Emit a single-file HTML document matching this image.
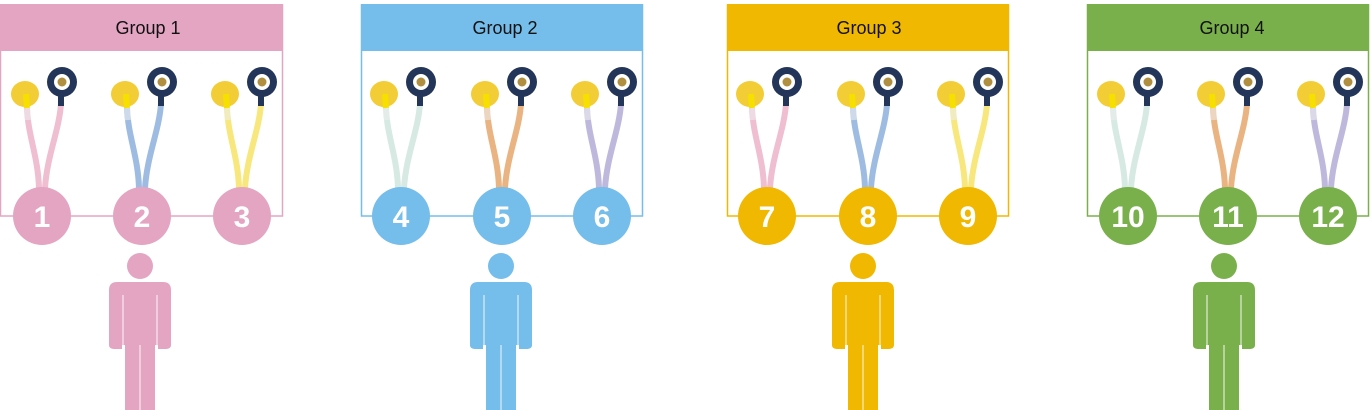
<!DOCTYPE html>
<html><head><meta charset="utf-8"><style>
html,body{margin:0;padding:0;background:#fff;width:1371px;height:410px;overflow:hidden}
svg{display:block}
.h{font-family:"Liberation Sans",sans-serif;font-size:18px;fill:#111}
.n{font-family:"Liberation Sans",sans-serif;font-weight:bold;font-size:30px;fill:#fff}
</style></head><body>
<svg width="1371" height="410" viewBox="0 0 1371 410">
<defs>
<g id="el">
  <path d="M-15,-108 C-14,-80 -4,-60 -3,-28" stroke="currentColor" stroke-width="6" fill="none" opacity="0.75"/>
  <path d="M19,-112 C17,-85 5,-60 3,-28" stroke="currentColor" stroke-width="6" fill="none" opacity="0.75"/>
  <path d="M-15,-108 L-14,-96" stroke="#eee" stroke-width="6" opacity="0.6"/>
  <ellipse cx="-17" cy="-122" rx="14" ry="13" fill="#f2cd35"/>
  <path d="M-16,-122 L-15,-108" stroke="#f7e000" stroke-width="6"/>
  <circle cx="20" cy="-134" r="15" fill="#23365a"/>
  <circle cx="20" cy="-134" r="8" fill="#fff"/>
  <circle cx="20" cy="-134" r="4.5" fill="#b09040"/>
  <path d="M19,-120 L19,-110" stroke="#23365a" stroke-width="6"/>
</g>
<g id="person">
  <circle cx="0" cy="266" r="13"/>
  <path d="M-31,345 L-31,290 Q-31,282 -23,282 L23,282 Q31,282 31,290 L31,345 Q31,349 25,349 L18,349 L18,345 L15,345 L15,410 L-15,410 L-15,345 L-18,345 L-18,349 L-25,349 Q-31,349 -31,345Z"/>
  <path d="M-17,295 V345 M17,295 V345 M0,345 V410" stroke="#fff" stroke-width="1.5" opacity="0.6"/>
</g>
</defs>

<!-- Group 1 -->
<g>
<rect x="0.5" y="5" width="282" height="211" fill="none" stroke="#e4a5c3" stroke-width="1.5"/>
<rect x="0" y="4" width="283" height="47" fill="#e4a5c3"/>
<text class="h" x="148" y="34" text-anchor="middle">Group 1</text>
<use href="#el" x="42" y="216" style="color:#eaa8c0"/>
<use href="#el" x="142" y="216" style="color:#7ea6d8"/>
<use href="#el" x="242" y="216" style="color:#f4df50"/>
<circle cx="42" cy="216" r="29" fill="#e4a5c3"/><text class="n" x="42" y="227" text-anchor="middle">1</text>
<circle cx="142" cy="216" r="29" fill="#e4a5c3"/><text class="n" x="142" y="227" text-anchor="middle">2</text>
<circle cx="242" cy="216" r="29" fill="#e4a5c3"/><text class="n" x="242" y="227" text-anchor="middle">3</text>
<use href="#person" x="140" y="0" fill="#e4a5c3"/>
</g>

<!-- Group 2 -->
<g>
<rect x="361.5" y="5" width="281" height="211" fill="none" stroke="#75bdea" stroke-width="1.5"/>
<rect x="361" y="4" width="282" height="47" fill="#75bdea"/>
<text class="h" x="505" y="34" text-anchor="middle">Group 2</text>
<use href="#el" x="401" y="216" style="color:#c8e2d8"/>
<use href="#el" x="502" y="216" style="color:#e39a58"/>
<use href="#el" x="602" y="216" style="color:#a9a0d2"/>
<circle cx="401" cy="216" r="29" fill="#75bdea"/><text class="n" x="401" y="227" text-anchor="middle">4</text>
<circle cx="502" cy="216" r="29" fill="#75bdea"/><text class="n" x="502" y="227" text-anchor="middle">5</text>
<circle cx="602" cy="216" r="29" fill="#75bdea"/><text class="n" x="602" y="227" text-anchor="middle">6</text>
<use href="#person" x="501" y="0" fill="#75bdea"/>
</g>

<!-- Group 3 -->
<g>
<rect x="727.5" y="5" width="281" height="211" fill="none" stroke="#f0b800" stroke-width="1.5"/>
<rect x="727" y="4" width="282" height="47" fill="#f0b800"/>
<text class="h" x="869" y="34" text-anchor="middle">Group 3</text>
<use href="#el" x="767" y="216" style="color:#eaa8c0"/>
<use href="#el" x="868" y="216" style="color:#7ea6d8"/>
<use href="#el" x="968" y="216" style="color:#f4df50"/>
<circle cx="767" cy="216" r="29" fill="#f0b800"/><text class="n" x="767" y="227" text-anchor="middle">7</text>
<circle cx="868" cy="216" r="29" fill="#f0b800"/><text class="n" x="868" y="227" text-anchor="middle">8</text>
<circle cx="968" cy="216" r="29" fill="#f0b800"/><text class="n" x="968" y="227" text-anchor="middle">9</text>
<use href="#person" x="863" y="0" fill="#f0b800"/>
</g>

<!-- Group 4 -->
<g>
<rect x="1087.5" y="5" width="281" height="211" fill="none" stroke="#7ab04c" stroke-width="1.5"/>
<rect x="1087" y="4" width="282" height="47" fill="#7ab04c"/>
<text class="h" x="1232" y="34" text-anchor="middle">Group 4</text>
<use href="#el" x="1128" y="216" style="color:#c8e2d8"/>
<use href="#el" x="1228" y="216" style="color:#e39a58"/>
<use href="#el" x="1328" y="216" style="color:#a9a0d2"/>
<circle cx="1128" cy="216" r="29" fill="#7ab04c"/><text class="n" x="1128" y="227" text-anchor="middle">10</text>
<circle cx="1228" cy="216" r="29" fill="#7ab04c"/><text class="n" x="1228" y="227" text-anchor="middle">11</text>
<circle cx="1328" cy="216" r="29" fill="#7ab04c"/><text class="n" x="1328" y="227" text-anchor="middle">12</text>
<use href="#person" x="1224" y="0" fill="#7ab04c"/>
</g>
</svg>
</body></html>
